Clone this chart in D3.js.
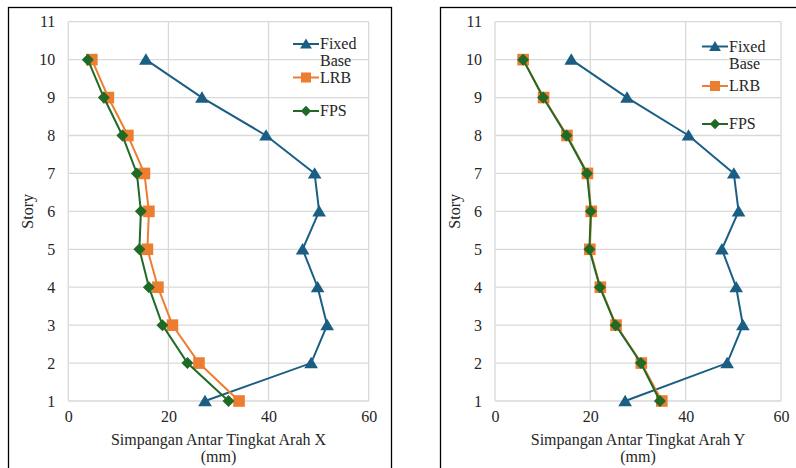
<!DOCTYPE html>
<html>
<head>
<meta charset="utf-8">
<script src="https://cdn.jsdelivr.net/npm/d3@7"></script>
<style>
  body { margin: 0; background: #fff; }
  svg { display: block; }
  text { font-family: "Liberation Serif", "Times New Roman", serif; }
</style>
</head>
<body>
<div id="chart"></div>
<script>
"use strict";

// Story levels
const stories = [1, 2, 3, 4, 5, 6, 7, 8, 9, 10];
const xTicks = [0, 20, 40, 60];
const yTicks = [1, 2, 3, 4, 5, 6, 7, 8, 9, 10, 11];

// Simpangan arah X (mm), story 1..10
const fixedX = [27.3, 48.5, 51.7, 49.8, 46.8, 50.1, 49.2, 39.5, 26.7, 15.5];
const lrbX   = [34.1, 26.1, 20.8, 17.9, 15.8, 16.1, 15.2, 11.9, 8.0, 4.7];
const fpsX   = [32.0, 23.8, 18.8, 16.1, 14.2, 14.5, 13.7, 10.8, 7.1, 3.9];

// Simpangan arah Y (mm), story 1..10
const fixedY = [27.3, 48.7, 52.0, 50.6, 47.6, 51.1, 50.1, 40.6, 27.7, 16.0];
const lrbY   = [35.0, 30.7, 25.4, 22.1, 19.9, 20.2, 19.4, 15.1, 10.2, 5.9];
const fpsY   = [34.6, 30.6, 25.3, 22.0, 19.8, 20.1, 19.3, 15.0, 10.1, 5.9];

const seriesNames = ["Fixed Base", "LRB", "FPS"];
const seriesColors = ["#1b5e84", "#ed7d31", "#1f6b26"];

// Excel-style markers (triangle centred on its box, square, square diamond)
const triangleMark = {
  draw(ctx, size) {
    let h = Math.sqrt(size);
    ctx.moveTo(0, -h * 0.55);
    ctx.lineTo(h * 0.6, h * 0.45);
    ctx.lineTo(-h * 0.6, h * 0.45);
    ctx.closePath();
  }
};
const diamondMark = {
  draw(ctx, size) {
    let r = Math.sqrt(size / 2);
    ctx.moveTo(0, -r);
    ctx.lineTo(r, 0);
    ctx.lineTo(0, r);
    ctx.lineTo(-r, 0);
    ctx.closePath();
  }
};
const seriesMarkers = [triangleMark, d3.symbolSquare, diamondMark];
const markerSizes = [130, 135, 72];

const textColor = "#262626";

const svg = d3.select("#chart").append("svg")
  .attr("width", 796)
  .attr("height", 468);

svg.append("rect").attr("width", 796).attr("height", 468).attr("fill", "#fff");

function drawChart(opts) {
  let g = svg.append("g");

  // Outer frame
  g.append("rect")
    .attr("x", opts.frame[0] + 0.5)
    .attr("y", opts.frame[1] + 0.5)
    .attr("width", opts.frame[2])
    .attr("height", 500)
    .attr("fill", "none")
    .attr("stroke", "#000")
    .attr("stroke-width", 1.3);

  let x = d3.scaleLinear().domain([0, 60]).range([opts.left, opts.right]);
  let y = d3.scaleLinear().domain([1, 11]).range([401, 21.7]);

  // Gridlines
  g.append("g").selectAll("line").data(xTicks).join("line")
    .attr("x1", d => x(d)).attr("x2", d => x(d))
    .attr("y1", y(1)).attr("y2", y(11))
    .attr("stroke", "#d9d9d9").attr("stroke-width", 1.3);
  g.append("g").selectAll("line").data(yTicks).join("line")
    .attr("x1", x(0)).attr("x2", x(60))
    .attr("y1", d => y(d)).attr("y2", d => y(d))
    .attr("stroke", "#d9d9d9").attr("stroke-width", 1.3);

  // Axes (labels only)
  let xAxis = g.append("g")
    .attr("transform", "translate(0," + y(1) + ")")
    .call(d3.axisBottom(x).tickValues(xTicks).tickSize(0).tickPadding(10));
  let yAxis = g.append("g")
    .attr("transform", "translate(" + x(0) + ",0)")
    .call(d3.axisLeft(y).tickValues(yTicks).tickSize(0).tickPadding(13));
  [xAxis, yAxis].forEach(function(a) {
    a.select(".domain").remove();
    a.attr("font-family", null).attr("font-size", null);
    a.selectAll("text")
      .style("font-size", "16px")
      .attr("fill", textColor);
  });

  // Series
  opts.series.forEach(function(vals, i) {
    let pts = stories.map((s, k) => [vals[k], s]);
    g.append("path")
      .datum(pts)
      .attr("fill", "none")
      .attr("stroke", seriesColors[i])
      .attr("stroke-width", 2)
      .attr("d", d3.line().x(d => x(d[0])).y(d => y(d[1])));
    g.append("g").selectAll("path").data(pts).join("path")
      .attr("transform", d => "translate(" + x(d[0]) + "," + y(d[1]) + ")")
      .attr("d", d3.symbol().type(seriesMarkers[i]).size(markerSizes[i]))
      .attr("fill", seriesColors[i]);
  });

  // Axis titles
  let cx = (x(0) + x(60)) / 2;
  g.append("text")
    .attr("x", cx).attr("y", 445)
    .attr("text-anchor", "middle")
    .style("font-size", "16px").attr("fill", textColor)
    .text(opts.xTitle);
  g.append("text")
    .attr("x", cx).attr("y", 462)
    .attr("text-anchor", "middle")
    .style("font-size", "16px").attr("fill", textColor)
    .text("(mm)");
  g.append("text")
    .attr("transform", "translate(" + opts.storyX + "," + y(6) + ") rotate(-90)")
    .attr("text-anchor", "middle")
    .style("font-size", "16px").attr("fill", textColor)
    .text("Story");

  // Legend
  seriesNames.forEach(function(name, i) {
    let ly = opts.legendY[i];
    let lx = opts.legendX;
    let lg = g.append("g");
    lg.append("line")
      .attr("x1", lx).attr("x2", lx + 26)
      .attr("y1", ly).attr("y2", ly)
      .attr("stroke", seriesColors[i]).attr("stroke-width", 2);
    lg.append("path")
      .attr("transform", "translate(" + (lx + 13) + "," + ly + ")")
      .attr("d", d3.symbol().type(seriesMarkers[i]).size(markerSizes[i] * 0.75))
      .attr("fill", seriesColors[i]);
    let words = name.split(" ");
    words.forEach(function(w, j) {
      lg.append("text")
        .attr("x", lx + 27).attr("y", ly + 5 + j * 17)
        .style("font-size", "16px").attr("fill", textColor)
        .text(w);
    });
  });
}

drawChart({
  frame: [8, 7, 383],
  left: 68.3, right: 368.7,
  series: [fixedX, lrbX, fpsX],
  xTitle: "Simpangan Antar Tingkat Arah X",
  storyX: 33,
  legendX: 293,
  legendY: [44, 77.5, 111]
});

drawChart({
  frame: [440, 7, 400],
  left: 495, right: 781,
  series: [fixedY, lrbY, fpsY],
  xTitle: "Simpangan Antar Tingkat Arah Y",
  storyX: 460,
  legendX: 702,
  legendY: [46.5, 86, 124]
});
</script>
</body>
</html>
